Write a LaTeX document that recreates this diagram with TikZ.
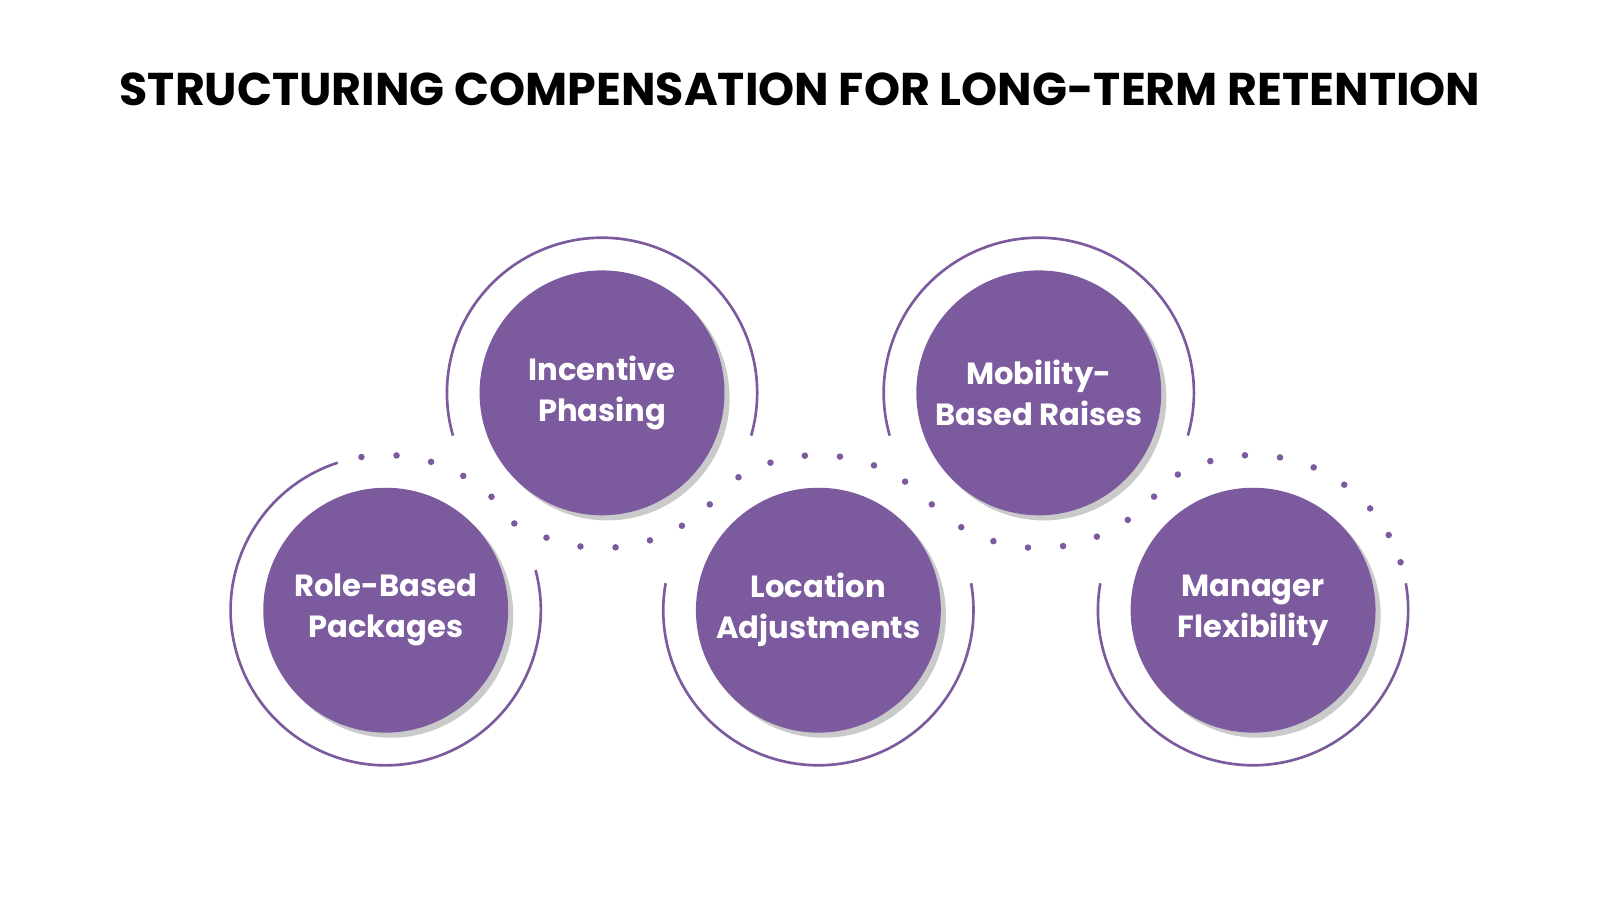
\documentclass[tikz,border=0pt]{standalone}
\usepackage{fontspec}
\setmainfont{Poppins}
\usetikzlibrary{shadows}
\definecolor{plum}{HTML}{7B5A9E}

\begin{document}
\begin{tikzpicture}[x=0.5pt,y=0.5pt,
  disc/.style={circle, fill=plum, minimum size=120pt, inner sep=0pt, text=white,
    align=center, font=\fontsize{15}{20}\selectfont\bfseries,
    drop shadow={shadow xshift=2.5pt, shadow yshift=-2.5pt, opacity=.35, fill=black!60}},
  ring/.style={draw=plum, line width=1.3pt},
  dot/.style={fill=plum}]
\useasboundingbox (0,0) rectangle (1568,882);
\node (title) at (784,794) {\fontsize{22.5}{26}\selectfont\bfseries STRUCTURING COMPENSATION FOR LONG-TERM RETENTION};
% the five discs
\node [disc] (role) at (378,284) {Role-Based\\Packages};
\node [disc] (inc) at (590,497) {Incentive\\Phasing};
\node [disc] (loc) at (802,284) {Location\\Adjustments};
\node [disc] (mob) at (1018,497) {Mobility-\\Based Raises};
\node [disc] (man) at (1228,284) {Manager\\Flexibility};
% solid rings
\draw [ring] (role.center) ++(108:152) arc[start angle=108, end angle=375, radius=152];
\draw [ring] (inc.center) ++(-16:152) arc[start angle=-16, end angle=196, radius=152];
\draw [ring] (loc.center) ++(170:152) arc[start angle=170, end angle=370, radius=152];
\draw [ring] (mob.center) ++(-16:152) arc[start angle=-16, end angle=196, radius=152];
\draw [ring] (man.center) ++(170:152) arc[start angle=170, end angle=370, radius=152];
% dotted rings
\foreach \a in {99,86,73,60,47,34} \fill [dot] (role.center) ++(\a:152) circle[radius=3.2];
\foreach \a in {249,262,275,288,301,314} \fill [dot] (inc.center) ++(\a:152) circle[radius=3.2];
\foreach \a in {121,108,95,82,69,56,43} \fill [dot] (loc.center) ++(\a:152) circle[radius=3.2];
\foreach \a in {240,253,266,279,292,305,318} \fill [dot] (mob.center) ++(\a:152) circle[radius=3.2];
\foreach \a in {119,106,93,80,67,54,41,29,18} \fill [dot] (man.center) ++(\a:152) circle[radius=3.2];
\end{tikzpicture}
\end{document}
